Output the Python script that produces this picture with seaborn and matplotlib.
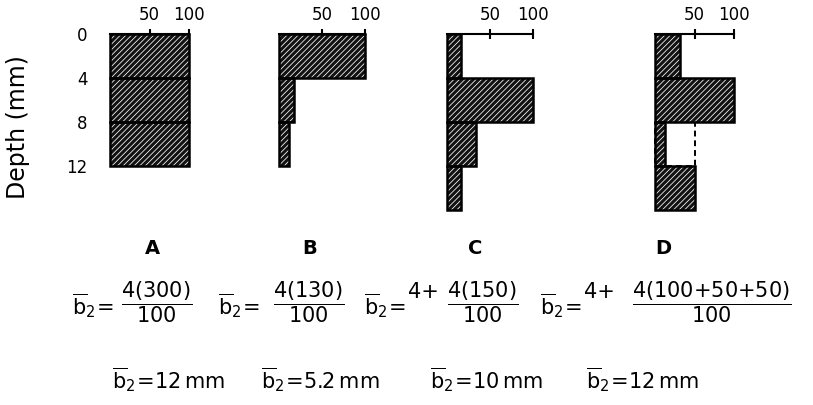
import numpy as np
import pandas as pd
import matplotlib
matplotlib.use("Agg")
import matplotlib.pyplot as plt
import seaborn as sns

# ---------------- data ----------------
layer_top_mm = [0, 4, 8, 12]
layer_thickness_mm = 4
pct_A = [100, 100, 100]
pct_B = [100, 18, 12]
pct_C = [16, 100, 34, 16]
pct_D = [32, 100, 13, 50]
pct_D_dashed = [0, 0, 50, 0]          # hollow (dashed) part of D, 8-12 mm
panel_labels = ["A", "B", "C", "D"]
x_ticks = [50, 100]
x_tick_labels = ["50", "100"]
depth_ticks = [0, 4, 8, 12]
depth_tick_labels = ["0", "4", "8", "12"]
formula_prefix = r"$\overline{\mathrm{b}}_2\!=$"
formula_lead = ["", "", "4+", "4+"]
formula_frac = [
    r"$\dfrac{4(300)}{100}$",
    r"$\dfrac{4(130)}{100}$",
    r"$\dfrac{4(150)}{100}$",
    r"$\dfrac{4(100{+}50{+}50)}{100}$",
]
results = [
    r"$\overline{\mathrm{b}}_2\!=\!12\,\mathrm{mm}$",
    r"$\overline{\mathrm{b}}_2\!=\!5.2\,\mathrm{mm}$",
    r"$\overline{\mathrm{b}}_2\!=\!10\,\mathrm{mm}$",
    r"$\overline{\mathrm{b}}_2\!=\!12\,\mathrm{mm}$",
]

# ---------------- layout (pixels) ----------------
W, H = 813, 405
sns.set_theme(style="white")
plt.rcParams["font.family"] = ["DejaVu Sans"]
plt.rcParams["mathtext.fontset"] = "dejavusans"
plt.rcParams["hatch.linewidth"] = 0.55

fig = plt.figure(figsize=(W / 100, H / 100), dpi=100)

panel_px = [(110, 189), (279, 365), (447, 533), (655, 734)]
top_px, bot_px = 34, 210
max_depth = 16

FILL = "#121212"


def px_rect(x0, x1):
    return [x0 / W, 1 - bot_px / H, (x1 - x0) / W, (bot_px - top_px) / H]


def frame(vals):
    n = len(vals)
    return pd.DataFrame({
        "depth": [t + layer_thickness_mm / 2 for t in layer_top_mm[:n]],
        "pct": vals,
    })


def bars(ax, vals, face, edge, lw, hatch=None, ls="-"):
    before = len(ax.patches)
    sns.barplot(data=frame(vals), x="pct", y="depth", orient="h",
                native_scale=True, width=1, ax=ax, color=face,
                saturation=1, errorbar=None)
    new = ax.patches[before:]
    for p in new:
        if p.get_width() == 0:
            p.remove()
            continue
        p.set_facecolor(face)
        p.set_edgecolor(edge)
        p.set_linewidth(lw)
        p.set_linestyle(ls)
        if hatch:
            p.set_hatch(hatch)
        p.set_clip_on(False)


all_vals = [pct_A, pct_B, pct_C, pct_D]
for i, (vals, (x0, x1)) in enumerate(zip(all_vals, panel_px)):
    ax = fig.add_axes(px_rect(x0, x1))
    ax.set_facecolor("none")
    if i == 3:
        bars(ax, pct_D_dashed, "white", "black", 1.4, ls=(0, (3, 2)))
    bars(ax, vals, FILL, "white", 0, hatch="//////")
    bars(ax, vals, "none", "black", 1.8)
    ax.set_xlim(0, 100)
    ax.set_ylim(max_depth, 0)
    ax.set_xlabel("")
    ax.set_ylabel("")
    ax.xaxis.tick_top()
    ax.set_xticks(x_ticks)
    ax.set_xticklabels(x_tick_labels)
    ax.tick_params(axis="x", direction="inout", length=7, width=1.5,
                   labelsize=12, pad=4, colors="black", top=True, bottom=False)
    for s in ["left", "right", "bottom"]:
        ax.spines[s].set_visible(False)
    ax.spines["top"].set_visible(True)
    ax.spines["top"].set_bounds(0, 100)
    ax.spines["top"].set_linewidth(1.5)
    ax.spines["top"].set_color("black")
    if i == 0:
        ax.set_yticks(depth_ticks)
        ax.set_yticklabels(depth_tick_labels)
        ax.tick_params(axis="y", length=0, labelsize=12, pad=16,
                       colors="black", left=True)
    else:
        ax.set_yticks([])
    ax.grid(False)


def ftext(x, y, s, ha="center", **kw):
    fig.text(x / W, 1 - y / H, s, ha=ha, va="center", color="black", **kw)


ftext(18, 127, "Depth (mm)", rotation=90, fontsize=17)

label_x = [152, 310, 475, 663]
for lab, x in zip(panel_labels, label_x):
    ftext(x, 249, lab, fontsize=14, fontweight="bold")

prefix_x = [72, 218, 364, 540]
lead_x = [None, None, 408, 584]
frac_x = [157, 309, 483, 712]
for k in range(4):
    ftext(prefix_x[k], 306, formula_prefix, ha="left", fontsize=15)
    if formula_lead[k]:
        ftext(lead_x[k], 292, formula_lead[k], ha="left", fontsize=15)
    ftext(frac_x[k], 302, formula_frac[k], fontsize=15)

result_x = [168, 320, 486, 642]
for r, x in zip(results, result_x):
    ftext(x, 380, r, fontsize=15)

fig.savefig("out.png", dpi=100, facecolor="white")
